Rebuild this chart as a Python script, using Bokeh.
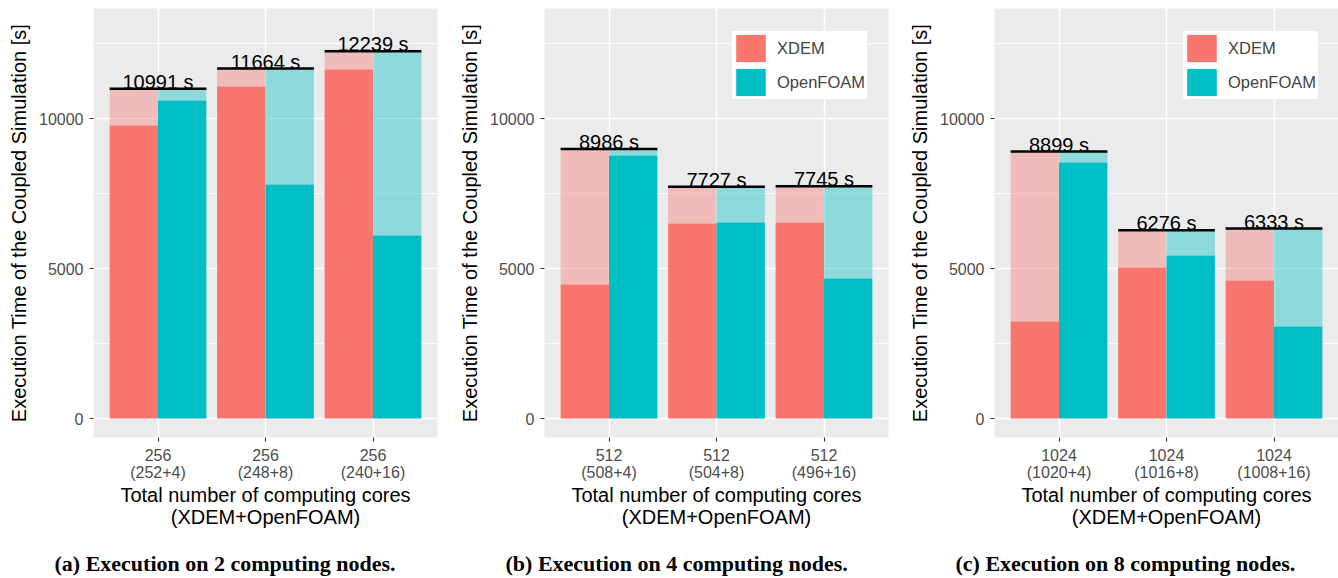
from bokeh.plotting import figure
from bokeh.models import (ColumnDataSource, FactorRange, Range1d, FixedTicker,
                          Legend, LegendItem, Title)
from bokeh.transform import dodge
from bokeh.layouts import row
from bokeh.embed import file_html
from bokeh.resources import INLINE
from bokeh.core.properties import value

# ---------------- data ----------------
cores_a = ["256\n(252+4)", "256\n(248+8)", "256\n(240+16)"]
cores_b = ["512\n(508+4)", "512\n(504+8)", "512\n(496+16)"]
cores_c = ["1024\n(1020+4)", "1024\n(1016+8)", "1024\n(1008+16)"]

total_a = [10991, 11664, 12239]
xdem_a = [9770, 11070, 11630]
openfoam_a = [10600, 7800, 6100]

total_b = [8986, 7727, 7745]
xdem_b = [4470, 6500, 6530]
openfoam_b = [8770, 6530, 4670]

total_c = [8899, 6276, 6333]
xdem_c = [3230, 5030, 4600]
openfoam_c = [8530, 5430, 3070]

captions = ["(a) Execution on 2 computing nodes.",
            "(b) Execution on 4 computing nodes.",
            "(c) Execution on 8 computing nodes."]

series_names = ["XDEM", "OpenFOAM"]
y_ticks = [0, 5000, 10000]
y_minor = [2500, 7500, 12500]

XDEM_COLOR = "#F8766D"
OF_COLOR = "#00BFC4"
SANS = "Liberation Sans"


def make_panel(cats, xdem, openfoam, totals, caption, width, left, right, legend_x=None):
    src = ColumnDataSource(dict(cat=cats, xdem=xdem, of=openfoam, total=totals,
                                label=[f"{t} s" for t in totals]))
    p = figure(x_range=FactorRange(*cats, range_padding=0.1, range_padding_units="absolute"),
               y_range=Range1d(-633, 13667),
               width=width, height=578, output_backend="svg", toolbar_location=None,
               min_border_left=left, min_border_right=right, min_border_top=8,
               min_border_bottom=141,
               background_fill_color="#EBEBEB", border_fill_color="white",
               outline_line_color=None)

    x_xdem = dodge("cat", -0.225, range=p.x_range)
    x_of = dodge("cat", 0.225, range=p.x_range)

    p.vbar(x=x_xdem, bottom="xdem", top="total", width=0.45, source=src,
           fill_color=XDEM_COLOR, fill_alpha=0.4, line_color=None)
    r_x = p.vbar(x=x_xdem, bottom=0, top="xdem", width=0.45, source=src,
                 fill_color=XDEM_COLOR, line_color=None)
    p.vbar(x=x_of, bottom="of", top="total", width=0.45, source=src,
           fill_color=OF_COLOR, fill_alpha=0.4, line_color=None)
    r_o = p.vbar(x=x_of, bottom=0, top="of", width=0.45, source=src,
                 fill_color=OF_COLOR, line_color=None)

    p.segment(x0=dodge("cat", -0.45, range=p.x_range), x1=dodge("cat", 0.45, range=p.x_range),
              y0="total", y1="total", source=src, line_color="black", line_width=2.5)
    p.text(x="cat", y="total", text="label", source=src, text_align="center",
           text_baseline="bottom", y_offset=4, text_font=value(SANS),
           text_font_size="20px", text_color="black")

    # grid
    p.xgrid.grid_line_color = "white"
    p.xgrid.grid_line_width = 1.5
    p.ygrid.ticker = FixedTicker(ticks=y_ticks, minor_ticks=y_minor)
    p.ygrid.grid_line_color = "white"
    p.ygrid.grid_line_width = 1.5
    p.ygrid.minor_grid_line_color = "white"
    p.ygrid.minor_grid_line_width = 0.8

    # axes
    p.yaxis.ticker = FixedTicker(ticks=y_ticks)
    for ax in (p.xaxis[0], p.yaxis[0]):
        ax.axis_line_color = None
        ax.major_tick_line_color = "#333333"
        ax.major_tick_line_width = 1.1
        ax.major_tick_out = 4
        ax.major_tick_in = 0
        ax.minor_tick_line_color = None
        ax.major_label_text_color = "#4D4D4D"
        ax.major_label_text_font = SANS
        ax.major_label_text_font_size = "16px"
        ax.axis_label_text_font = SANS
        ax.axis_label_text_font_size = "20px"
        ax.axis_label_text_font_style = "normal"
        ax.axis_label_text_color = "black"
    p.yaxis.major_label_standoff = 6
    p.yaxis.axis_label_standoff = 6
    p.xaxis.major_label_standoff = 5
    p.xaxis.axis_label_standoff = 0
    p.yaxis.axis_label = "Execution Time of the Coupled Simulation [s]"
    p.xaxis.axis_label = "Total number of computing cores\n(XDEM+OpenFOAM)"
    p.xaxis.major_label_text_line_height = 1.0
    p.xaxis.axis_label_text_line_height = 1.0

    if legend_x is not None:
        leg = Legend(items=[LegendItem(label=series_names[0], renderers=[r_x]),
                            LegendItem(label=series_names[1], renderers=[r_o])],
                     location=(legend_x, 338), glyph_width=37, glyph_height=34,
                     spacing=0, padding=11, margin=0, label_standoff=8, label_width=90,
                     label_text_font=SANS, label_text_font_size="16.5px",
                     border_line_color=None, background_fill_color="white",
                     background_fill_alpha=1.0)
        p.add_layout(leg)

    # spacer between the axis title and the caption, then the caption itself
    p.add_layout(Title(text=" ", text_font_size="14px", standoff=0), "below")
    p.add_layout(Title(text=caption, align="left", offset=-39, standoff=0,
                       text_font="Liberation Serif", text_font_size="22px",
                       text_font_style="bold", text_color="black"), "below")
    return p


pa = make_panel(cores_a, xdem_a, openfoam_a, total_a, captions[0], 446, 93, 9)
pb = make_panel(cores_b, xdem_b, openfoam_b, total_b, captions[1], 446, 98, 4, legend_x=188)
pc = make_panel(cores_c, xdem_c, openfoam_c, total_c, captions[2], 446, 102, 0, legend_x=189)

layout = row(pa, pb, pc)
open("out.html", "w").write(file_html(layout, INLINE))
